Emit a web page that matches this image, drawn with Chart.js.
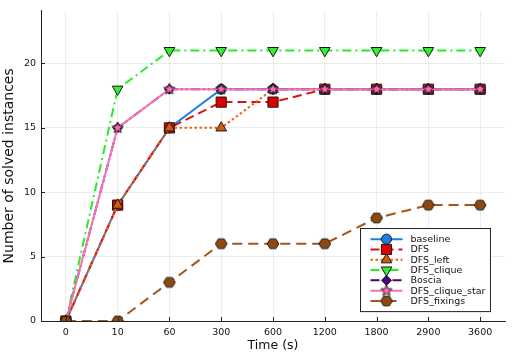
<!DOCTYPE html>
<html>
<head>
<meta charset="utf-8">
<script src="https://cdn.jsdelivr.net/npm/chart.js@4/dist/chart.umd.min.js"></script>
<style>
  body { margin: 0; background: #fff; }
  canvas { display: block; }
</style>
</head>
<body>
<canvas id="myChart" width="515" height="357"></canvas>
<script>
// x categories (time limits in seconds)
var timeLabels = ['0', '10', '60', '300', '600', '1200', '1800', '2900', '3600'];

// solved instances per method
var baseline      = [0, 9, 15, 18, 18, 18, 18, 18, 18];
var dfs           = [0, 9, 15, 17, 17, 18, 18, 18, 18];
var dfsLeft       = [0, 9, 15, 15, 18, 18, 18, 18, 18];
var dfsClique     = [0, 18, 21, 21, 21, 21, 21, 21, 21];
var boscia        = [0, 15, 18, 18, 18, 18, 18, 18, 18];
var dfsCliqueStar = [0, 15, 18, 18, 18, 18, 18, 18, 18];
var dfsFixings    = [0, 0, 3, 6, 6, 6, 8, 9, 9];

var yTicks = [0, 5, 10, 15, 20];

var FONT = 'DejaVu Sans';

function toPoints(arr) {
    return arr.map(function (v, i) { return { x: i, y: v }; });
}

// small canvases for marker shapes Chart.js doesn't have
function markerCanvas(kind, fill) {
    var s = 14;
    var c = document.createElement('canvas');
    c.width = s; c.height = s;
    var g = c.getContext('2d');
    var cx = s / 2, cy = s / 2;
    g.beginPath();
    if (kind === 'star') {
        for (var i = 0; i < 10; i++) {
            var r = i % 2 === 0 ? 5.8 : 2.6;
            var a = -Math.PI / 2 + i * Math.PI / 5;
            g.lineTo(cx + r * Math.cos(a), cy + r * Math.sin(a));
        }
    } else if (kind === 'hexagon') {
        for (var j = 0; j < 6; j++) {
            var b = j * Math.PI / 3;
            g.lineTo(cx + 5.8 * Math.cos(b), cy + 5.6 * Math.sin(b));
        }
    }
    g.closePath();
    g.fillStyle = fill;
    g.fill();
    g.lineWidth = 1;
    g.strokeStyle = '#1a1a1a';
    g.stroke();
    return c;
}

var starImg = markerCanvas('star', '#ff69b4');
var hexImg = markerCanvas('hexagon', '#8e4a0c');

function series(label, data, color, fill, dash, style, radius, rotation) {
    return {
        label: label,
        data: toPoints(data),
        borderColor: color,
        backgroundColor: color,
        borderWidth: 2,
        borderDash: dash,
        pointStyle: style,
        pointRadius: radius,
        pointHoverRadius: radius,
        pointRotation: rotation || 0,
        pointBackgroundColor: fill,
        pointBorderColor: '#1a1a1a',
        pointBorderWidth: 1,
        fill: false,
        tension: 0
    };
}

var datasets = [
    series('baseline', baseline, '#1a7fe3', '#1a7fe3', [], 'circle', 5),
    series('DFS', dfs, '#e01010', '#dd0000', [9, 5], 'rect', 7.2),
    series('DFS_left', dfsLeft, '#e2661a', '#d45a10', [2.5, 2.5], 'triangle', 6.2),
    series('DFS_clique', dfsClique, '#22ee22', '#33ee33', [9, 4, 2, 4], 'triangle', 6.2, 180),
    series('Boscia', boscia, '#4b0082', '#4b0082', [9, 3, 2, 3, 2, 3], 'rectRot', 5),
    series('DFS_clique_star', dfsCliqueStar, '#f472b6', '#ff69b4', [], starImg, 6),
    series('DFS_fixings', dfsFixings, '#a0561c', '#8e4a0c', [10, 6], hexImg, 6)
];
// later series drawn on top, like the original
datasets.forEach(function (d, i) { d.order = datasets.length - i; });

// inward tick marks on the two axes
var tickMarks = {
    id: 'tickMarks',
    afterDatasetsDraw: function (chart) {
        var ctx = chart.ctx, a = chart.chartArea;
        var xs = chart.scales.x, ys = chart.scales.y;
        ctx.save();
        ctx.strokeStyle = '#222';
        ctx.lineWidth = 1;
        ctx.beginPath();
        xs.ticks.forEach(function (t) {
            var px = Math.round(xs.getPixelForValue(t.value)) + 0.5;
            ctx.moveTo(px, a.bottom); ctx.lineTo(px, a.bottom - 4);
        });
        ys.ticks.forEach(function (t) {
            var py = Math.round(ys.getPixelForValue(t.value)) + 0.5;
            ctx.moveTo(a.left, py); ctx.lineTo(a.left + 4, py);
        });
        ctx.stroke();
        ctx.restore();
    }
};

// legend box with line sample + marker, Plots.jl style
var lineLegend = {
    id: 'lineLegend',
    afterDraw: function (chart) {
        var ctx = chart.ctx, a = chart.chartArea;
        var rowH = 10.3, padL = 10, lineW = 32, gap = 8, padR = 5;
        ctx.save();
        ctx.font = '9.5px "' + FONT + '"';
        var tw = 0;
        datasets.forEach(function (d) { tw = Math.max(tw, ctx.measureText(d.label).width); });
        var w = padL + lineW + gap + tw + padR;
        var h = rowH * datasets.length + 11;
        var x0 = Math.round(a.right - 15 - w) + 0.5;
        var y0 = Math.round(a.bottom - 10 - h) + 0.5;
        ctx.fillStyle = '#fff';
        ctx.fillRect(x0, y0, w, h);
        ctx.strokeStyle = '#222';
        ctx.lineWidth = 1;
        ctx.strokeRect(x0, y0, w, h);
        datasets.forEach(function (d, i) {
            var y = y0 + 5.5 + rowH * (i + 0.5);
            var lx = x0 + padL;
            ctx.save();
            ctx.strokeStyle = d.borderColor;
            ctx.lineWidth = 2;
            ctx.setLineDash(d.borderDash);
            ctx.beginPath();
            ctx.moveTo(lx, y); ctx.lineTo(lx + lineW, y);
            ctx.stroke();
            ctx.restore();
            ctx.save();
            ctx.fillStyle = d.pointBackgroundColor;
            ctx.strokeStyle = d.pointBorderColor;
            Chart.helpers.drawPoint(ctx, {
                pointStyle: d.pointStyle,
                rotation: d.pointRotation,
                radius: d.pointRadius,
                borderWidth: 1
            }, lx + lineW / 2, y);
            ctx.restore();
            ctx.fillStyle = '#111';
            ctx.textBaseline = 'middle';
            ctx.fillText(d.label, lx + lineW + gap, y + 0.5);
        });
        ctx.restore();
    }
};

var ctx = document.getElementById('myChart').getContext('2d');
var myChart = new Chart(ctx, {
    type: 'line',
    data: { datasets: datasets },
    plugins: [tickMarks, lineLegend],
    options: {
        responsive: false,
        animation: false,
        layout: { padding: { top: 8, right: 10, left: 0, bottom: 0 } },
        plugins: {
            legend: { display: false },
            tooltip: { enabled: false }
        },
        scales: {
            x: {
                type: 'linear',
                min: -0.48,
                max: 8.48,
                afterFit: function (s) { s.height = 36; },
                afterBuildTicks: function (s) {
                    s.ticks = timeLabels.map(function (l, i) { return { value: i }; });
                },
                ticks: {
                    padding: 6,
                    color: '#111',
                    font: { family: FONT, size: 9.5 },
                    maxRotation: 0,
                    callback: function (v) { return timeLabels[v]; }
                },
                grid: { color: 'rgba(0,0,0,0.07)', lineWidth: 1, drawTicks: false },
                border: { color: '#222', width: 1 },
                title: {
                    display: true,
                    text: 'Time (s)',
                    color: '#111',
                    font: { family: FONT, size: 12.5 },
                    padding: { top: 0, bottom: 4 }
                }
            },
            y: {
                min: 0,
                max: 24.1,
                afterFit: function (s) { s.width = 41; },
                afterBuildTicks: function (s) {
                    s.ticks = yTicks.map(function (v) { return { value: v }; });
                },
                ticks: {
                    padding: 5,
                    color: '#111',
                    font: { family: FONT, size: 9.5 }
                },
                grid: { color: 'rgba(0,0,0,0.07)', lineWidth: 1, drawTicks: false },
                border: { color: '#222', width: 1 },
                title: {
                    display: true,
                    text: 'Number of solved instances',
                    color: '#111',
                    font: { family: FONT, size: 14 },
                    padding: { top: 1, bottom: 0 }
                }
            }
        }
    }
});
</script>
</body>
</html>
